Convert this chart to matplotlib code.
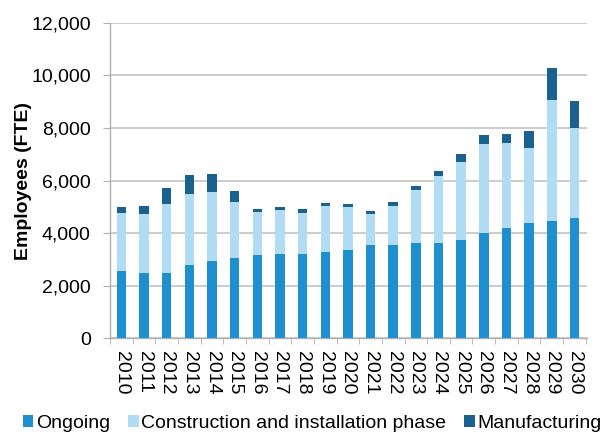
import matplotlib
matplotlib.use("Agg")
import matplotlib.pyplot as plt
import numpy as np

years = [str(y) for y in range(2010, 2031)]
ongoing = [2570, 2480, 2480, 2790, 2950, 3050, 3160, 3190, 3220, 3280, 3360,
           3540, 3560, 3620, 3620, 3750, 3990, 4190, 4390, 4450, 4580]
construction = [2190, 2250, 2610, 2710, 2600, 2140, 1650, 1690, 1550, 1740, 1630,
                1190, 1460, 2030, 2570, 2950, 3410, 3240, 2860, 4630, 3410]
manufacturing = [230, 320, 640, 700, 710, 430, 90, 130, 130, 130, 130,
                 100, 150, 140, 190, 320, 330, 330, 620, 1200, 1040]

plt.rcParams['font.family'] = ['Liberation Sans', 'DejaVu Sans']

fig = plt.figure(figsize=(6.05, 4.33), dpi=100)
ax = fig.add_axes([0.182, 0.219, 0.788, 0.728])

x = np.arange(len(years))
w = 0.42
c_on = '#1e90d0'
c_co = '#b0dcf4'
c_ma = '#1a6190'
ax.bar(x, ongoing, w, color=c_on, label='Ongoing', zorder=3)
ax.bar(x, construction, w, bottom=ongoing, color=c_co,
       label='Construction and installation phase', zorder=3)
bot2 = np.array(ongoing) + np.array(construction)
ax.bar(x, manufacturing, w, bottom=bot2, color=c_ma, label='Manufacturing', zorder=3)

ax.set_xlim(-0.46, 20.55)
ax.set_ylim(0, 12000)
ax.set_yticks(range(0, 12001, 2000))
ax.set_yticklabels([f'{v:,}' for v in range(0, 12001, 2000)], fontsize=14)
ax.set_xticks(x)
ax.set_xticklabels(years, rotation=270, fontsize=14)
ax.set_xticks(np.arange(-0.5, 20.6, 1), minor=True)
ax.tick_params(axis='x', which='major', length=0, pad=9)
ax.tick_params(axis='x', which='minor', length=4, color='#b0b0b0')
ax.tick_params(axis='y', length=5, color='#b0b0b0', pad=9)
ax.yaxis.grid(True, color='#c4c4c4', linewidth=1.2, zorder=0)
ax.set_axisbelow(True)
for s in ['top', 'right']:
    ax.spines[s].set_visible(False)
for s in ['left', 'bottom']:
    ax.spines[s].set_color('#b0b0b0')
    ax.spines[s].set_linewidth(1.0)
ax.set_ylabel('Employees (FTE)', fontsize=14, fontweight='bold', labelpad=-1)

fig.legend(loc='lower center', bbox_to_anchor=(0.516, -0.025), ncol=3, frameon=False,
           fontsize=14, handlelength=0.55, handleheight=0.55, handletextpad=0.15,
           columnspacing=0.9, borderaxespad=0.2)

fig.savefig('out.png', dpi=100)
